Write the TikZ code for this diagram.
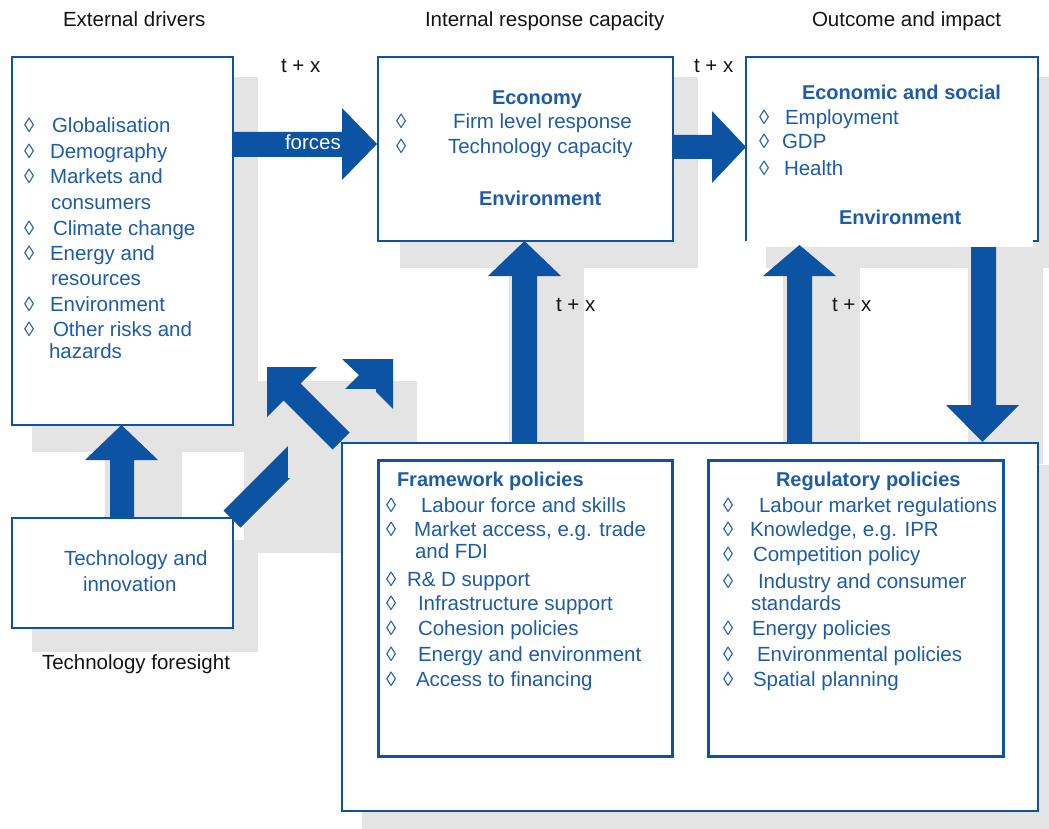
\documentclass[tikz,border=0pt]{standalone}
\usepackage{fontspec}
\setmainfont{Liberation Sans}
\definecolor{bblue}{RGB}{12,84,163}
\definecolor{tblue}{RGB}{30,92,168}
\definecolor{sgray}{RGB}{228,228,228}
\definecolor{tblack}{RGB}{20,20,20}
\newcommand\rfnt{\fontsize{20.5}{24}\selectfont}
\newcommand\bfnt{\fontsize{20}{24}\selectfont\bfseries}
\tikzset{
 box/.style={draw=bblue, line width=2.5pt, fill=white, inner sep=0pt, outer sep=0pt, anchor=north west},
 ibox/.style={box, line width=3pt},
 shd/.style={fill=sgray},
 blk/.style={fill=bblue},
 itm/.style={anchor=base west, inner sep=0pt, outer sep=0pt, text=tblue, font=\rfnt},
 hdg/.style={anchor=base west, inner sep=0pt, outer sep=0pt, text=tblue, font=\bfnt},
 lbl/.style={anchor=base west, inner sep=0pt, outer sep=0pt, text=tblack, font=\rfnt},
}
\newcommand\litem[5]{\node[itm] (#1d) at (#2,#4) {◊}; \node[itm] (#1) at (#3,#4) {#5};}
\begin{document}
\begin{tikzpicture}[x=1pt,y=-1pt]
\useasboundingbox (0,0) rectangle (1049,829);
% external drivers
\fill[shd] (32,77) rectangle (258,452);
\node[box, minimum width=221pt, minimum height=368pt] (drivers) at (12,57) {};
% technology -> drivers arrow
\fill[shd] (105,447) rectangle (182,540);
\fill[blk] (110,518) -- (110,460) -- (85,460) -- (121.5,425) -- (158,460) -- (134,460) -- (134,518) -- cycle;
% technology box
\fill[shd] (32,540) rectangle (258,652);
\node[box, minimum width=221pt, minimum height=110pt] (tech) at (12,518) {};
% forces arrow
\fill[blk] (233,132) -- (342,132) -- (342,108) -- (377,144) -- (342,180) -- (342,157) -- (233,157) -- cycle;
% economy box
\fill[shd] (400,77) rectangle (698,268);
\node[box, minimum width=295pt, minimum height=184pt] (econ) at (378,57) {};
% econ -> outcome arrow
\fill[blk] (673,135) -- (712,135) -- (712,111) -- (746,147) -- (712,183) -- (712,159) -- (673,159) -- cycle;
% outcome box
\fill[shd] (766,77) rectangle (1060,268);
\node[box, draw=none, minimum width=292pt, minimum height=184pt] (outcome) at (746,57) {};
\draw[bblue, line width=2.5pt] (outcome.south west) -- (outcome.north west) -- (outcome.north east) -- (outcome.south east) -- ++(-6,0);
\fill[white] (748,240) rectangle (1033,247);
% vertical arrows
\fill[shd] (509,263) rectangle (584,465);
\fill[blk] (512,443) -- (512,276) -- (488,276) -- (524.5,241) -- (561,276) -- (537,276) -- (537,443) -- cycle;
\fill[shd] (783,265) rectangle (860,465);
\fill[blk] (787,443) -- (787,276) -- (763,276) -- (799.5,245) -- (836,276) -- (812,276) -- (812,443) -- cycle;
\fill[shd] (968,263) rectangle (1043,464);
\fill[blk] (971,247) -- (971,405) -- (946,405) -- (982.5,442) -- (1019,405) -- (996,405) -- (996,247) -- cycle;
% diagonal arrows
\fill[shd] (244,381) rectangle (417,553);
\fill[blk] (223.5,510.5) -- (359,375) -- (342,359) -- (393,359) -- (393,409) -- (376,392) -- (240.5,527.5) -- cycle;
\fill[shd] (288,389) rectangle (376,478);
\fill[blk] (267,367) -- (317,367) -- (300.5,383.5) -- (349.5,432.5) -- (332.5,449.5) -- (283.5,400.5) -- (267,417) -- cycle;
% policies
\fill[shd] (362,465) rectangle (1060,840);
\node[box, minimum width=696pt, minimum height=368pt] (policies) at (342,443) {};
\node[ibox, minimum width=294pt, minimum height=296pt] (framework) at (378,460) {};
\node[ibox, minimum width=295pt, minimum height=296pt] (regulatory) at (708,460) {};
% titles and labels
\node[lbl] (t1) at (63,27) {External drivers};
\node[lbl] (t2) at (425,27) {Internal response capacity};
\node[lbl] (t3) at (812,27) {Outcome and impact};
\node[lbl] (tx1) at (281,73) {t + x};
\node[lbl] (tx2) at (694,73) {t + x};
\node[lbl] (tx3) at (556,311) {t + x};
\node[lbl] (tx4) at (832,311) {t + x};
\node[itm, text=white] (forces) at (285,150) {forces};
% drivers list
\litem{a1}{24}{52}{133}{Globalisation}
\litem{a2}{24}{50}{159}{Demography}
\litem{a3}{24}{50}{184}{Markets and}
\node[itm] (a3b) at (51,209) {consumers};
\litem{a4}{24}{53}{235}{Climate change}
\litem{a5}{24}{50}{260}{Energy and}
\node[itm] (a5b) at (51,285) {resources};
\litem{a6}{24}{50}{311}{Environment}
\litem{a7}{24}{53}{336}{Other risks and}
\node[itm] (a7b) at (49,358) {hazards};
% economy
\node[hdg] (eh) at (492,105) {Economy};
\litem{e1}{396}{453}{129}{Firm level response}
\litem{e2}{396}{448}{154}{Technology capacity}
\node[hdg] (ee) at (479,205) {Environment};
% outcome
\node[hdg] (oh) at (802,100) {Economic and social};
\litem{o1}{759}{785}{125}{Employment}
\litem{o2}{759}{782}{149}{GDP}
\litem{o3}{759}{784}{176}{Health}
\node[hdg] (oe) at (839,225) {Environment};
% technology
\node[itm] (ti1) at (64,565) {Technology and};
\node[itm] (ti2) at (83,591) {innovation};
\node[lbl] (tf) at (42,669) {Technology foresight};
% framework
\node[hdg] (fh) at (397,486) {Framework policies};
\litem{f1}{386}{421}{512}{Labour force and skills}
\litem{f2}{386}{414}{536}{Market access, e.g. trade}
\node[itm] (f2b) at (415,558) {and FDI};
\litem{f3}{386}{407}{586}{R\& D support}
\litem{f4}{386}{418}{610}{Infrastructure support}
\litem{f5}{386}{418}{635}{Cohesion policies}
\litem{f6}{386}{418}{661}{Energy and environment}
\litem{f7}{386}{416}{686}{Access to financing}
% regulatory
\node[hdg] (rh) at (776,486) {Regulatory policies};
\litem{r1}{723}{759}{512}{Labour market regulations}
\litem{r2}{723}{750}{536}{Knowledge, e.g. IPR}
\litem{r3}{723}{753}{561}{Competition policy}
\litem{r4}{723}{758}{588}{Industry and consumer}
\node[itm] (r4b) at (751,610) {standards};
\litem{r5}{723}{752}{635}{Energy policies}
\litem{r6}{723}{757}{661}{Environmental policies}
\litem{r7}{723}{753}{686}{Spatial planning}
\end{tikzpicture}
\end{document}
